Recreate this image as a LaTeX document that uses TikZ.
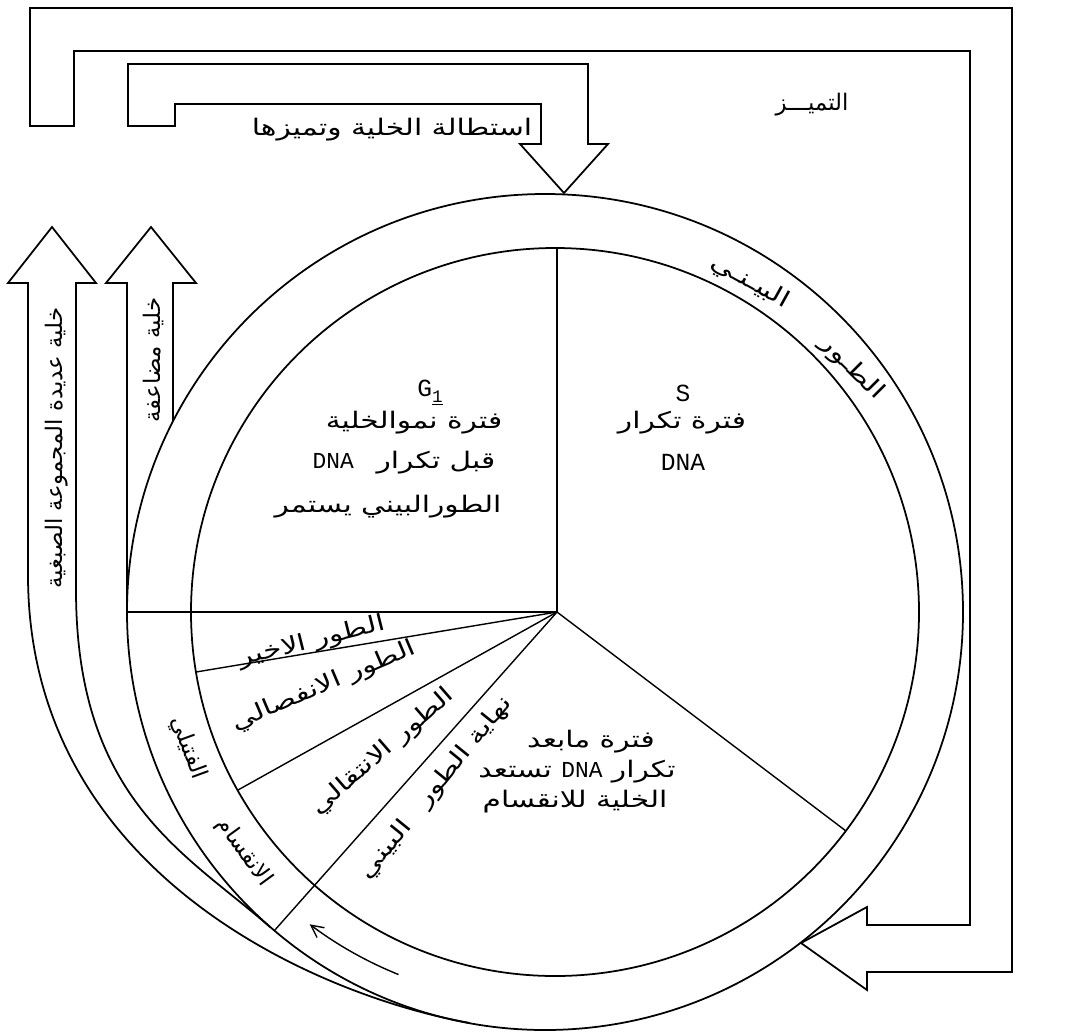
\documentclass[tikz,border=0pt]{standalone}
\usepackage{fontspec}
\newfontfamily\arabicfont[Script=Arabic, FakeStretch=1.3]{DejaVu Sans}
\newfontfamily\arabicplain[Script=Arabic]{DejaVu Sans}
\newfontfamily\latinfont{Liberation Mono}
\TeXXeTstate=1
\usetikzlibrary{arrows.meta}

\begin{document}
\begin{tikzpicture}[
  x=0.02cm, y=-0.02cm,
  line/.style={line width=1pt, line join=miter},
  spoke/.style={line width=0.8pt},
  lbl/.style={font=\arabicfont\fontsize{13}{15}\selectfont, inner sep=0pt},
  plainlbl/.style={font=\arabicplain\fontsize{13}{15}\selectfont, inner sep=0pt},
  lat/.style={font=\latinfont\fontsize{14}{15}\selectfont, inner sep=0pt}
]
  \useasboundingbox (0,0) rectangle (1068,1035);

  % centres of the cycle
  \coordinate (mid) at (557,612);
  \coordinate (cin) at (555,612);
  \coordinate (cout) at (545,612);

  % the two rings
  \draw[line] (cin) circle[radius=364];
  \draw[line] (cout) circle[radius=418];

  % spokes
  \coordinate (topend) at (557,248);
  \coordinate (leftend) at (127,612);
  \coordinate (rightend) at (846,831);
  \coordinate (teloend) at (196,672);
  \coordinate (anaend) at (238,790);
  \coordinate (proend) at (274,931);
  \draw[spoke] (mid) -- (topend);
  \draw[spoke] (mid) -- (leftend);
  \draw[spoke] (mid) -- (rightend);
  \draw[spoke] (mid) -- (teloend);
  \draw[spoke] (mid) -- (anaend);
  \draw[spoke] (mid) -- (proend);

  % small arrow in the ring
  \draw[spoke, -{Straight Barb[length=7pt,width=7pt]}] (cout) ++(112:391)
    arc[start angle=112, end angle=127, radius=391];

  % differentiation frame
  \draw[line] (30,126) -- (30,8) -- (1012,8) -- (1012,972) -- (867,972)
    -- (867,990) -- (801,943) -- (867,907) -- (867,925) -- (970,925)
    -- (970,51) -- (74,51) -- (74,126) -- cycle;

  % elongation arrow
  \draw[line] (128,126) -- (128,64) -- (588,64) -- (588,144) -- (608,144)
    -- (564,193) -- (520,144) -- (541,144) -- (541,104) -- (175,104)
    -- (175,126) -- cycle;

  % polyploid arrow
  \draw[line] (28,575) -- (28,283) -- (8,283) -- (52,227) -- (96,283)
    -- (76,283) -- (76,590);
  \draw[line] (28,575) .. controls (28,870) and (313,995) .. (470,1023);
  \draw[line] (76,590) .. controls (76,800) and (187,854) .. (270,927);

  % doubled cell arrow
  \draw[line] (127,612) -- (127,283) -- (106,283) -- (151,227) -- (196,283)
    -- (173,283) -- (173,421);

  % labels outside
  \node[plainlbl] (diff) at (812,105) {\beginR التميـــز\endR};
  \node[lbl] (elong) at (392,130) {\beginR استطالة الخلية وتميزها\endR};
  \node[plainlbl, rotate=90] (double) at (153,360) {\beginR خلية مضاعفة\endR};
  \node[plainlbl, rotate=90] (poly) at (57,448) {\beginR خلية عديدة المجموعة الصبغية\endR};

  % ring labels
  \node[lbl, rotate=-29] (interA) at (750,282) {\beginR البيـنـي\endR};
  \node[lbl, rotate=-45] (interB) at (852,368) {\beginR الطـور\endR};
  \node[plainlbl, rotate=-70] (mitA) at (188,748) {\beginR الفتيلي\endR};
  \node[plainlbl, rotate=-54] (mitB) at (244,852) {\beginR الانقسام\endR};

  % G1
  \node[lat] (gone) at (430,393) {G\raisebox{-3pt}{\fontsize{10}{10}\selectfont\underline{1}}};
  \node[lbl] (gonea) at (414,423) {\beginR فترة نموالخلية\endR};
  \node[lbl] (goneb) at (404,463) {\beginR قبل تكرار\quad\beginL{\latinfont DNA}\endL\endR};
  \node[lbl] (gonec) at (388,507) {\beginR الطورالبيني يستمر\endR};

  % S
  \node[lat] (s) at (683,393) {S};
  \node[lbl] (sa) at (682,423) {\beginR فترة تكرار\endR};
  \node[lat] (sb) at (683,462) {DNA};

  % G2
  \node[lbl] (gtwoa) at (591,742) {\beginR فترة مابعد\endR};
  \node[lbl] (gtwob) at (577,772) {\beginR تكرار \beginL{\latinfont DNA}\endL{} تستعد\endR};
  \node[lbl] (gtwoc) at (575,802) {\beginR الخلية للانقسام\endR};

  % mitosis phases
  \node[lbl, rotate=14] (telo) at (312,642) {\beginR الطور الاخير\endR};
  \node[lbl, rotate=23] (ana) at (324,686) {\beginR الطور الانفصالي\endR};
  \node[lbl, rotate=41] (meta) at (383,752) {\beginR الطور الانتقالي\endR};
  \node[lbl, rotate=51] (pro) at (436,788) {\beginR نهاية الطور\quad البيني\endR};
\end{tikzpicture}
\end{document}
